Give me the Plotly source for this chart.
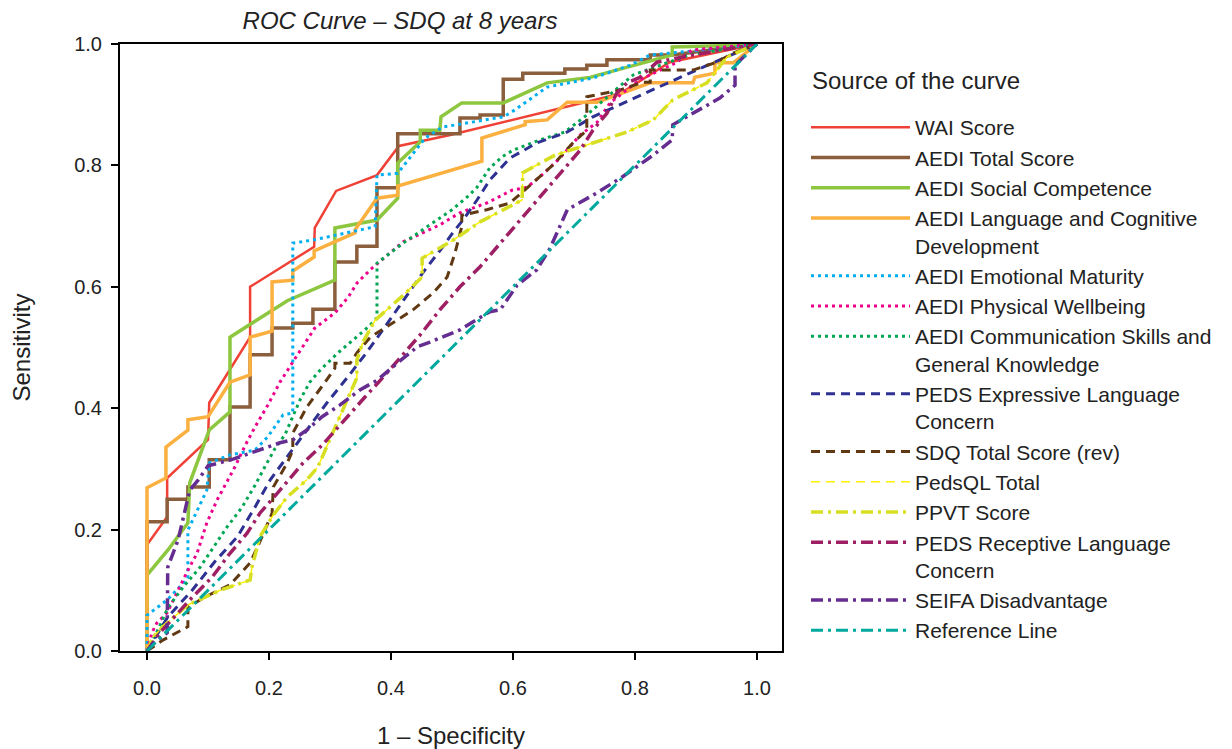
import plotly.graph_objects as go

# ---------------- data (1 - specificity, sensitivity) ----------------
wai_x = [0, 0, 0.033, 0.033, 0.100, 0.102, 0.169, 0.169, 0.274, 0.275, 0.310, 0.377, 0.413, 0.497, 0.775, 0.857, 1.0]
wai_y = [0, 0.175, 0.221, 0.285, 0.348, 0.409, 0.517, 0.600, 0.666, 0.697, 0.758, 0.784, 0.832, 0.850, 0.918, 0.970, 1.0]

aedi_total_x = [0, 0, 0.033, 0.033, 0.067, 0.067, 0.102, 0.102, 0.136, 0.136, 0.169, 0.169, 0.205, 0.205, 0.239, 0.239,
                0.272, 0.272, 0.308, 0.308, 0.344, 0.344, 0.377, 0.377, 0.411, 0.411, 0.513, 0.513, 0.546, 0.546,
                0.584, 0.584, 0.616, 0.616, 0.685, 0.685, 0.721, 0.721, 0.754, 0.754, 0.825, 0.825, 0.861, 1.0]
aedi_total_y = [0, 0.213, 0.213, 0.250, 0.250, 0.270, 0.270, 0.315, 0.315, 0.402, 0.402, 0.488, 0.488, 0.532, 0.532, 0.540,
                0.540, 0.563, 0.563, 0.641, 0.641, 0.667, 0.667, 0.763, 0.763, 0.852, 0.852, 0.878, 0.878, 0.883,
                0.883, 0.942, 0.942, 0.952, 0.952, 0.959, 0.959, 0.965, 0.965, 0.974, 0.974, 0.982, 0.982, 1.0]

social_x = [0, 0, 0.034, 0.067, 0.070, 0.102, 0.136, 0.136, 0.230, 0.308, 0.308, 0.377, 0.411, 0.411, 0.448, 0.448,
            0.480, 0.482, 0.516, 0.584, 0.656, 0.726, 0.861, 0.861, 0.972, 1.0]
social_y = [0, 0.125, 0.166, 0.211, 0.277, 0.364, 0.394, 0.517, 0.577, 0.611, 0.697, 0.710, 0.746, 0.804, 0.839, 0.858,
            0.858, 0.880, 0.903, 0.903, 0.936, 0.945, 0.982, 0.995, 0.998, 1.0]

langcog_x = [0, 0, 0.031, 0.031, 0.067, 0.067, 0.100, 0.136, 0.169, 0.169, 0.205, 0.205, 0.239, 0.239, 0.274, 0.274,
             0.341, 0.341, 0.377, 0.411, 0.411, 0.480, 0.549, 0.549, 0.620, 0.620, 0.656, 0.689, 0.738, 0.825,
             0.895, 0.898, 0.931, 0.931, 0.961, 1.0]
langcog_y = [0, 0.269, 0.285, 0.336, 0.364, 0.381, 0.386, 0.443, 0.455, 0.517, 0.527, 0.608, 0.611, 0.626, 0.649, 0.659,
             0.689, 0.694, 0.746, 0.751, 0.766, 0.787, 0.807, 0.845, 0.867, 0.872, 0.875, 0.904, 0.904, 0.936,
             0.936, 0.945, 0.952, 0.969, 0.969, 1.0]

emotional_x = [0, 0, 0.033, 0.067, 0.067, 0.098, 0.102, 0.136, 0.177, 0.198, 0.223, 0.239, 0.239, 0.272, 0.374, 0.377,
               0.411, 0.448, 0.456, 0.484, 0.584, 0.598, 0.656, 0.731, 0.792, 0.825, 0.931, 1.0]
emotional_y = [0, 0.059, 0.084, 0.120, 0.199, 0.265, 0.310, 0.323, 0.331, 0.353, 0.389, 0.392, 0.672, 0.677, 0.699, 0.784,
               0.787, 0.834, 0.845, 0.863, 0.880, 0.888, 0.929, 0.944, 0.965, 0.982, 0.992, 1.0]

physical_x = [0, 0.008, 0.016, 0.033, 0.049, 0.067, 0.082, 0.098, 0.115, 0.128, 0.144, 0.161, 0.177, 0.198, 0.218, 0.239,
              0.259, 0.275, 0.308, 0.330, 0.344, 0.366, 0.390, 0.420, 0.452, 0.480, 0.513, 0.557, 0.598, 0.623,
              0.644, 0.677, 0.710, 0.738, 0.759, 0.808, 0.869, 0.893, 1.0]
physical_y = [0, 0.030, 0.046, 0.063, 0.096, 0.133, 0.161, 0.211, 0.249, 0.273, 0.303, 0.339, 0.369, 0.405, 0.443, 0.476,
              0.507, 0.532, 0.557, 0.583, 0.606, 0.628, 0.649, 0.674, 0.689, 0.702, 0.722, 0.738, 0.759, 0.764,
              0.781, 0.812, 0.850, 0.871, 0.903, 0.941, 0.970, 0.990, 1.0]

comm_x = [0, 0.018, 0.034, 0.059, 0.087, 0.111, 0.131, 0.156, 0.177, 0.193, 0.210, 0.226, 0.238, 0.251, 0.267, 0.284,
          0.313, 0.344, 0.364, 0.377, 0.377, 0.420, 0.464, 0.500, 0.525, 0.541, 0.562, 0.582, 0.600, 0.644, 0.685,
          0.721, 0.764, 0.797, 0.852, 0.890, 1.0]
comm_y = [0, 0.035, 0.071, 0.105, 0.138, 0.175, 0.204, 0.237, 0.273, 0.303, 0.334, 0.356, 0.384, 0.414, 0.443, 0.463,
          0.491, 0.517, 0.535, 0.549, 0.639, 0.672, 0.702, 0.727, 0.748, 0.764, 0.796, 0.814, 0.825, 0.842, 0.855,
          0.883, 0.921, 0.949, 0.969, 0.982, 1.0]

expressive_x = [0, 0.034, 0.074, 0.111, 0.148, 0.177, 0.202, 0.234, 0.262, 0.295, 0.328, 0.361, 0.390, 0.420, 0.452,
                0.485, 0.502, 0.518, 0.541, 0.562, 0.595, 0.639, 0.689, 0.731, 0.775, 0.825, 0.874, 0.939, 1.0]
expressive_y = [0, 0.056, 0.100, 0.147, 0.188, 0.237, 0.282, 0.326, 0.364, 0.409, 0.450, 0.493, 0.534, 0.578, 0.623,
                0.666, 0.690, 0.710, 0.743, 0.776, 0.812, 0.837, 0.855, 0.880, 0.900, 0.924, 0.945, 0.974, 1.0]

sdq_x = [0, 0.026, 0.067, 0.067, 0.095, 0.136, 0.169, 0.185, 0.205, 0.207, 0.230, 0.239, 0.239, 0.262, 0.292, 0.308,
         0.308, 0.333, 0.344, 0.366, 0.402, 0.436, 0.469, 0.492, 0.505, 0.516, 0.516, 0.557, 0.595, 0.628, 0.666,
         0.698, 0.721, 0.721, 0.775, 0.813, 0.825, 0.825, 0.895, 0.934, 0.961, 1.0]
sdq_y = [0, 0.018, 0.040, 0.072, 0.089, 0.109, 0.145, 0.180, 0.227, 0.270, 0.310, 0.331, 0.359, 0.402, 0.443, 0.466,
         0.474, 0.474, 0.491, 0.517, 0.540, 0.562, 0.590, 0.616, 0.656, 0.699, 0.718, 0.727, 0.738, 0.768, 0.801,
         0.837, 0.858, 0.913, 0.924, 0.937, 0.937, 0.957, 0.957, 0.970, 0.985, 1.0]

ppvt_x = [0, 0.010, 0.026, 0.067, 0.120, 0.169, 0.172, 0.185, 0.207, 0.230, 0.262, 0.280, 0.303, 0.328, 0.344, 0.344,
          0.354, 0.374, 0.420, 0.451, 0.451, 0.502, 0.546, 0.615, 0.616, 0.669, 0.721, 0.787, 0.830, 0.862, 0.918,
          0.951, 1.0]
ppvt_y = [0, 0.023, 0.040, 0.076, 0.100, 0.117, 0.138, 0.188, 0.224, 0.254, 0.282, 0.303, 0.356, 0.414, 0.450, 0.479,
          0.509, 0.545, 0.586, 0.616, 0.647, 0.677, 0.707, 0.743, 0.788, 0.817, 0.834, 0.855, 0.875, 0.908, 0.936,
          0.979, 1.0]

pedsql_x = [0, 0.010, 0.026, 0.067, 0.120, 0.169, 0.172, 0.185, 0.207, 0.230, 0.262, 0.280, 0.303, 0.328, 0.344, 0.344,
            0.354, 0.374, 0.420, 0.451, 0.451, 0.502, 0.546, 0.615, 0.616, 0.669, 0.721, 0.787, 0.830, 0.862, 0.918,
            0.951, 1.0]
pedsql_y = [0, 0.023, 0.040, 0.076, 0.100, 0.117, 0.138, 0.188, 0.224, 0.254, 0.282, 0.303, 0.356, 0.414, 0.450, 0.479,
            0.509, 0.545, 0.586, 0.616, 0.647, 0.677, 0.707, 0.743, 0.788, 0.817, 0.834, 0.855, 0.875, 0.908, 0.936,
            0.979, 1.0]

receptive_x = [0, 0.021, 0.051, 0.070, 0.107, 0.136, 0.164, 0.185, 0.218, 0.256, 0.287, 0.328, 0.357, 0.387, 0.415,
               0.448, 0.480, 0.513, 0.546, 0.579, 0.611, 0.644, 0.682, 0.710, 0.731, 0.754, 0.770, 0.787, 0.808,
               0.836, 0.895, 1.0]
receptive_y = [0, 0.030, 0.063, 0.084, 0.122, 0.161, 0.194, 0.227, 0.265, 0.310, 0.339, 0.386, 0.418, 0.451, 0.484,
               0.521, 0.562, 0.600, 0.633, 0.672, 0.710, 0.748, 0.792, 0.825, 0.858, 0.886, 0.919, 0.936, 0.945,
               0.970, 0.982, 1.0]

seifa_x = [0, 0.010, 0.033, 0.033, 0.034, 0.051, 0.070, 0.084, 0.100, 0.141, 0.177, 0.218, 0.239, 0.262, 0.287, 0.316,
           0.349, 0.377, 0.410, 0.443, 0.464, 0.513, 0.534, 0.562, 0.579, 0.607, 0.639, 0.661, 0.689, 0.738, 0.779,
           0.830, 0.861, 0.862, 0.911, 0.939, 0.964, 0.964, 1.0]
seifa_y = [0, 0.013, 0.030, 0.105, 0.138, 0.183, 0.265, 0.282, 0.305, 0.316, 0.328, 0.343, 0.348, 0.364, 0.386, 0.405,
           0.430, 0.446, 0.474, 0.501, 0.509, 0.529, 0.542, 0.559, 0.562, 0.603, 0.628, 0.664, 0.727, 0.755, 0.781,
           0.817, 0.842, 0.867, 0.895, 0.911, 0.932, 0.965, 1.0]

ref_x = [0, 1]
ref_y = [0, 1]

tick_vals = [0.0, 0.2, 0.4, 0.6, 0.8, 1.0]
tick_text = ["0.0", "0.2", "0.4", "0.6", "0.8", "1.0"]

DOT = "3px,4px"
DASH = "9px,6px"
DASHDOT = "12px,5px,3px,5px"

series = [
    ("WAI Score", wai_x, wai_y, "#EF4136", 2.5, "solid"),
    ("AEDI Total Score", aedi_total_x, aedi_total_y, "#8B5E3C", 3.5, "solid"),
    ("AEDI Social Competence", social_x, social_y, "#8DC63F", 3.5, "solid"),
    ("AEDI Language and Cognitive<br>Development", langcog_x, langcog_y, "#FBB040", 3.5, "solid"),
    ("AEDI Emotional Maturity", emotional_x, emotional_y, "#00AEEF", 3, DOT),
    ("AEDI Physical Wellbeing", physical_x, physical_y, "#EC008C", 3, DOT),
    ("AEDI Communication Skills and<br>General Knowledge", comm_x, comm_y, "#00A651", 3, DOT),
    ("PEDS Expressive Language<br>Concern", expressive_x, expressive_y, "#2E3192", 3, DASH),
    ("SDQ Total Score (rev)", sdq_x, sdq_y, "#603913", 3, DASH),
    ("PedsQL Total", pedsql_x, pedsql_y, "#FFF200", 1.5, DASH),
    ("PPVT Score", ppvt_x, ppvt_y, "#D7DF23", 3.5, DASHDOT),
    ("PEDS Receptive Language<br>Concern", receptive_x, receptive_y, "#9E1F63", 3.5, DASHDOT),
    ("SEIFA Disadvantage", seifa_x, seifa_y, "#662D91", 3.5, DASHDOT),
    ("Reference Line", ref_x, ref_y, "#00A99D", 3, DASHDOT),
]

FONT = "Liberation Sans, Arial, sans-serif"
W, H = 1224, 741   # page body adds an 8px margin

fig = go.Figure()
for i, (name, xs, ys, color, w, dash) in enumerate(series):
    fig.add_trace(go.Scatter(
        x=xs, y=ys, mode="lines", name=name,
        line=dict(color=color, width=w, dash=dash),
        legendgroup=f"g{i}",
    ))

fig.add_annotation(
    text="Source of the curve", xref="paper", yref="paper",
    x=(810 - 120) / 662, y=1 - (80 - 44) / 607, xanchor="left", yanchor="middle",
    showarrow=False, font=dict(size=24, family=FONT, color="#222222"),
)

fig.update_layout(
    width=W, height=H,
    paper_bgcolor="white", plot_bgcolor="white",
    margin=dict(l=112, r=450, t=36, b=98, autoexpand=False),
    font=dict(family=FONT, color="#222222"),
    title=dict(text="<i>ROC Curve – SDQ at 8 years</i>", x=392 / W, xref="container", xanchor="center",
               y=1 - 13 / H, yref="container", yanchor="middle", font=dict(size=24, family=FONT)),
    showlegend=True,
    legend=dict(
        x=798 / W, xref="container", xanchor="left",
        y=1 - 99 / H, yref="container", yanchor="top",
        font=dict(size=21, family=FONT),
        itemwidth=99, valign="top",
        tracegroupgap=0,
        maxheight=700,
        bgcolor="rgba(0,0,0,0)",
    ),
    xaxis=dict(
        range=[-0.0443, 1.041], tickvals=tick_vals, ticktext=tick_text, automargin=False,
        showgrid=False, zeroline=False, showline=True, linecolor="black", linewidth=2, mirror=True,
        ticks="outside", ticklen=7, tickwidth=2, tickcolor="black", ticklabelstandoff=11,
        tickfont=dict(size=20, family=FONT),
        title=dict(text="1 – Specificity", font=dict(size=24, family=FONT), standoff=32),
    ),
    yaxis=dict(
        range=[0, 1], tickvals=tick_vals, ticktext=tick_text, automargin=False,
        showgrid=False, zeroline=False, showline=True, linecolor="black", linewidth=2, mirror=True,
        ticks="outside", ticklen=7, tickwidth=2, tickcolor="black", ticklabelstandoff=5,
        tickfont=dict(size=20, family=FONT),
        title=dict(text="Sensitivity", font=dict(size=24, family=FONT), standoff=38),
    ),
)

fig.write_html("out.html")
